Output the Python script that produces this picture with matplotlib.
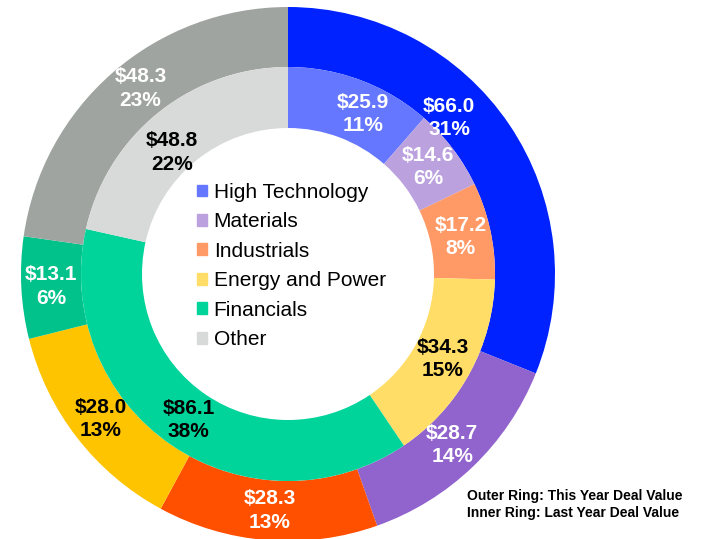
import matplotlib
matplotlib.use("Agg")
import matplotlib.pyplot as plt
import matplotlib.patches as mpatches
import numpy as np

categories = ["High Technology", "Materials", "Industrials", "Energy and Power", "Financials", "Other"]
this_year = [66.0, 28.7, 28.3, 28.0, 13.1, 48.3]
last_year = [25.9, 14.6, 17.2, 34.3, 86.1, 48.8]

outer_colors = ["#0022FF", "#9063CD", "#FF5000", "#FFC400", "#00C28A", "#A0A4A0"]
inner_colors = ["#6677FF", "#BBA2DF", "#FF9966", "#FFDD66", "#00D49A", "#D8DAD9"]
outer_text_colors = ["white", "white", "white", "black", "white", "white"]
inner_text_colors = ["white", "white", "white", "black", "black", "black"]

# label placement tweaks (angle offset deg, radius override)
outer_adj = [(10, 224), (0, None), (0, None), (0, None), (0, None), (-2.4, None)]
inner_adj = [(-4.6, None), (0, None), (0, None), (0, None), (0, None), (5, 168)]

W, H = 705, 539
cx, cy = 288, 274
R_out, w_out = 267, 60
R_in, w_in = 207, 61

plt.rcParams['font.family'] = ['Liberation Sans', 'DejaVu Sans']
fig = plt.figure(figsize=(W / 100, H / 100), dpi=100)
ax = fig.add_axes([0, 0, 1, 1])

ow, _ = ax.pie(this_year, radius=R_out, colors=outer_colors, startangle=90,
               counterclock=False, wedgeprops=dict(width=w_out, linewidth=0))
iw, _ = ax.pie(last_year, radius=R_in, colors=inner_colors, startangle=90,
               counterclock=False, wedgeprops=dict(width=w_in, linewidth=0))

def label(wedges, vals, R, w, tcolors, adj):
    tot = sum(vals)
    for wd, v, tc, (da, rr) in zip(wedges, vals, tcolors, adj):
        mid = np.deg2rad((wd.theta1 + wd.theta2) / 2 + da)
        r = rr if rr is not None else R - w / 2
        pct = int(round(v / tot * 100))
        ax.text(r * np.cos(mid), r * np.sin(mid), f"${v:.1f}\n{pct}%",
                ha="center", va="center", color=tc, fontsize=15,
                fontweight="bold", linespacing=1.3)

label(ow, this_year, R_out, w_out, outer_text_colors, outer_adj)
label(iw, last_year, R_in, w_in, inner_text_colors, inner_adj)

ax.set_xlim(-cx, W - cx)
ax.set_ylim(-(H - cy), cy)
ax.set_aspect("equal")
ax.axis("off")

handles = [mpatches.Patch(color=c, label=l) for c, l in zip(inner_colors, categories)]
fig.legend(handles=handles, loc="center left", bbox_to_anchor=(197 / W, 1 - 266 / H),
           frameon=False, fontsize=15, handlelength=0.5, handleheight=0.5,
           handletextpad=0.3, labelspacing=0.5, borderpad=0, borderaxespad=0)

fig.text(467 / W, 1 - 496 / H, "Outer Ring: This Year Deal Value", fontsize=10,
         fontweight="bold", ha="left", va="center")
fig.text(467 / W, 1 - 513 / H, "Inner Ring: Last Year Deal Value", fontsize=10,
         fontweight="bold", ha="left", va="center")

fig.savefig("out.png", dpi=100)
